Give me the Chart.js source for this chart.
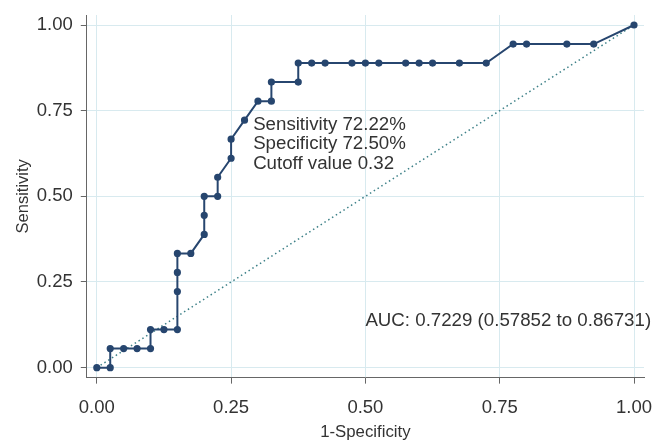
<!DOCTYPE html>
<html>
<head>
<meta charset="utf-8">
<script src="https://cdn.jsdelivr.net/npm/chart.js@4"></script>
<style>
  html, body { margin: 0; padding: 0; background: #ffffff; }
  #contenitore { width: 662px; height: 442px; }
</style>
</head>
<body>
<div id="contenitore"><canvas id="graficoROC"></canvas></div>
<script>
// Dati della curva ROC (1-specificita, sensibilita)
var unoMenoSpecificita = [0, 0.025, 0.025, 0.05, 0.075, 0.1, 0.1, 0.125, 0.15, 0.15, 0.15, 0.15, 0.175, 0.2, 0.2, 0.2, 0.225, 0.225, 0.25, 0.25, 0.275, 0.3, 0.325, 0.325, 0.375, 0.375, 0.4, 0.425, 0.475, 0.5, 0.525, 0.575, 0.6, 0.625, 0.675, 0.725, 0.775, 0.8, 0.875, 0.925, 1];
var sensibilita = [0, 0, 0.0556, 0.0556, 0.0556, 0.0556, 0.1111, 0.1111, 0.1111, 0.2222, 0.2778, 0.3333, 0.3333, 0.3889, 0.4444, 0.5, 0.5, 0.5556, 0.6111, 0.6667, 0.7222, 0.7778, 0.7778, 0.8333, 0.8333, 0.8889, 0.8889, 0.8889, 0.8889, 0.8889, 0.8889, 0.8889, 0.8889, 0.8889, 0.8889, 0.8889, 0.9444, 0.9444, 0.9444, 0.9444, 1];

// Linea di riferimento (diagonale)
var diagonaleX = [0, 1];
var diagonaleY = [0, 1];

// Etichette degli assi
var tickValori = [0, 0.25, 0.5, 0.75, 1];
var testoCutoff = ['Sensitivity 72.22%', 'Specificity 72.50%', 'Cutoff value 0.32'];
var testoAUC = 'AUC: 0.7229 (0.57852 to 0.86731)';

var font = '"Liberation Sans", Arial, Helvetica, sans-serif';
var coloreTesto = '#333333';

function costruisciPunti(xs, ys) {
  var punti = [];
  for (var i = 0; i < xs.length; i++) {
    punti.push({ x: xs[i], y: ys[i] });
  }
  return punti;
}

// Plugin per scrivere le annotazioni nel grafico
var pluginTesti = {
  id: 'testi',
  afterDatasetsDraw: function(chart) {
    var ctx = chart.ctx;
    var sx = chart.scales.x;
    var sy = chart.scales.y;
    ctx.save();
    ctx.fillStyle = coloreTesto;
    ctx.font = '18.7px ' + font;
    ctx.textAlign = 'left';
    ctx.textBaseline = 'middle';
    var x0 = sx.getPixelForValue(0.291);
    var y0 = sy.getPixelForValue(0.71);
    for (var i = 0; i < testoCutoff.length; i++) {
      ctx.fillText(testoCutoff[i], x0, y0 + i * 19.6);
    }
    ctx.fillText(testoAUC, sx.getPixelForValue(0.5), sy.getPixelForValue(0.137));
    ctx.restore();
  }
};

function impostaTick(scala) {
  scala.ticks = tickValori.map(function(v) { return { value: v }; });
}

// Le etichette stanno gia dentro lo spazio di offset, niente margine extra
function azzeraMarginiX(scala) {
  scala.paddingLeft = 0;
  scala.paddingRight = 0;
}
function azzeraMarginiY(scala) {
  scala.paddingTop = 0;
  scala.paddingBottom = 0;
}

var canvas = document.getElementById('graficoROC').getContext('2d');

var grafico = new Chart(canvas, {
  type: 'line',
  data: {
    datasets: [{
      label: 'ROC',
      data: costruisciPunti(unoMenoSpecificita, sensibilita),
      borderColor: '#27466f',
      backgroundColor: '#27466f',
      borderWidth: 2,
      pointRadius: 2.6,
      pointHoverRadius: 2.6,
      tension: 0
    },
    {
      label: 'Riferimento',
      data: costruisciPunti(diagonaleX, diagonaleY),
      borderColor: '#3d8088',
      borderWidth: 1.5,
      borderDash: [1.5, 3],
      pointRadius: 0,
      tension: 0
    }]
  },
  options: {
    responsive: true,
    maintainAspectRatio: false,
    animation: false,
    layout: { padding: { top: 15, right: 18, left: 14, bottom: 0 } },
    plugins: {
      legend: { display: false },
      tooltip: { enabled: false }
    },
    scales: {
      x: {
        type: 'linear',
        min: -0.0186,
        max: 1.0186,
        afterBuildTicks: impostaTick,
        afterFit: azzeraMarginiX,
        grid: { color: '#d8eaef', lineWidth: 1, tickLength: 6, tickColor: '#666666' },
        border: { color: '#666666', width: 1 },
        ticks: {
          padding: 13,
          color: coloreTesto,
          font: { family: font, size: 18.5 },
          maxRotation: 0,
          callback: function(v) { return v.toFixed(2); }
        },
        title: {
          display: true,
          text: '1-Specificity',
          color: coloreTesto,
          font: { family: font, size: 16.8 },
          padding: { top: -10, bottom: 0 }
        }
      },
      y: {
        type: 'linear',
        min: -0.0292,
        max: 1.0292,
        afterBuildTicks: impostaTick,
        afterFit: azzeraMarginiY,
        grid: { color: '#d8eaef', lineWidth: 1, tickLength: 6, tickColor: '#666666' },
        border: { color: '#666666', width: 1 },
        ticks: {
          padding: 8,
          color: coloreTesto,
          font: { family: font, size: 18.5 },
          callback: function(v) { return v.toFixed(2); }
        },
        title: {
          display: true,
          text: 'Sensitivity',
          color: coloreTesto,
          font: { family: font, size: 16.5 },
          padding: { top: 0, bottom: -5 }
        }
      }
    }
  },
  plugins: [pluginTesti]
});
</script>
</body>
</html>
